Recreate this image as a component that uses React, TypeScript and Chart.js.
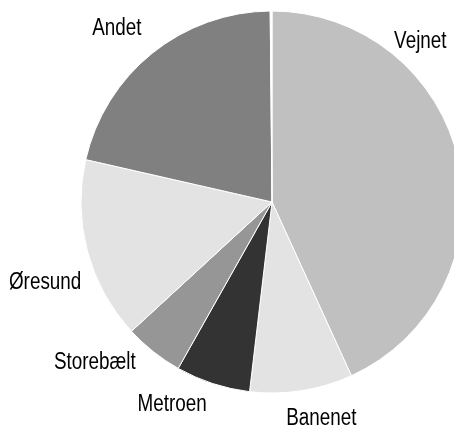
import React, { useEffect, useRef } from "react";
import { Chart, registerables } from "chart.js";

Chart.register(...registerables);

// Data
const categories = ["Vejnet", "Banenet", "Metroen", "Storebælt", "Øresund", "Andet", ""];
const shares = [43.2, 8.7, 6.3, 5.0, 15.4, 21.3, 0.15];

// Styles
const sliceColors = ["#c0c0c0", "#e3e3e3", "#333333", "#969696", "#e3e3e3", "#808080", "#ffffff"];

// Label placement: shift from slice middle angle (degrees, clockwise) and distance as multiple of radius
const labelAngleShift = [-35.2, -4.0, 8.3, 9.7, -4.2, -2.7, 0];
const labelDistance = [1.149, 1.156, 1.176, 1.246, 1.257, 1.224, 0];

const FONT_SIZE = 23;
const FONT_FAMILY = '"Liberation Sans", Arial, sans-serif';
const NARROW = 0.82; // horizontal condensing to imitate a narrow face

const labelPlugin = {
  id: "outsideLabels",
  afterDatasetsDraw(chart: any) {
    const ctx = chart.ctx;
    const meta = chart.getDatasetMeta(0);
    meta.data.forEach((arc: any, i: number) => {
      const label = categories[i];
      if (!label) return;
      const { x, y, startAngle, endAngle, outerRadius } = arc.getProps(
        ["x", "y", "startAngle", "endAngle", "outerRadius"],
        true
      );
      const mid = (startAngle + endAngle) / 2 + (labelAngleShift[i] * Math.PI) / 180;
      const d = outerRadius * labelDistance[i];
      const lx = x + d * Math.cos(mid);
      const ly = y + d * Math.sin(mid);
      ctx.save();
      ctx.font = `${FONT_SIZE}px ${FONT_FAMILY}`;
      ctx.fillStyle = "#000000";
      ctx.textAlign = "center";
      ctx.textBaseline = "alphabetic";
      ctx.translate(lx, ly + FONT_SIZE * 0.358);
      ctx.scale(NARROW, 1);
      ctx.fillText(label, 0, 0);
      ctx.restore();
    });
  },
};

export default function App() {
  const canvasRef = useRef<HTMLCanvasElement | null>(null);

  useEffect(() => {
    if (!canvasRef.current) return;
    const chart = new Chart(canvasRef.current, {
      type: "pie",
      data: {
        labels: categories,
        datasets: [
          {
            data: shares,
            backgroundColor: sliceColors,
            borderColor: "#ffffff",
            borderWidth: 1,
          },
        ],
      },
      options: {
        responsive: false,
        animation: false,
        radius: 191,
        layout: { padding: { top: 0, left: 0, right: 0, bottom: 23 } },
        plugins: {
          legend: { display: false },
          tooltip: { enabled: false },
        },
      } as any,
      plugins: [labelPlugin],
    });
    return () => chart.destroy();
  }, []);

  return (
    <div
      style={{
        position: "fixed",
        left: 0,
        top: 0,
        width: 454,
        height: 427,
        overflow: "hidden",
        background: "#ffffff",
      }}
    >
      <canvas
        ref={canvasRef}
        width={544}
        height={427}
        style={{ position: "absolute", left: 0, top: 0, width: 544, height: 427 }}
      />
    </div>
  );
}
